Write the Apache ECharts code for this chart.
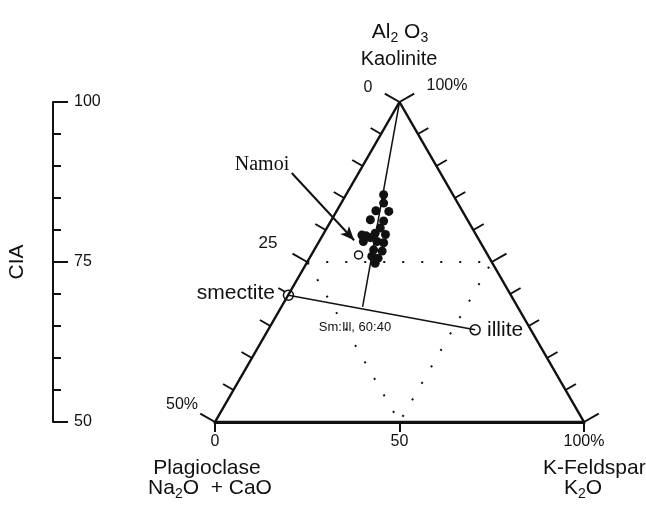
<!DOCTYPE html>
<html>
<head>
<meta charset="utf-8">
<script src="https://cdn.jsdelivr.net/npm/echarts@6/dist/echarts.min.js"></script>
<style>
html, body { margin: 0; padding: 0; background: #fff; }
#chart { width: 646px; height: 508px; }
</style>
</head>
<body>
<div id="chart"></div>
<script>
// frame: x = position along the feldspar join (0 plagioclase -> 100 K-feldspar), y = CIA
const plagVertex = [0, 50];
const apexVertex = [50, 100];
const kspVertex = [100, 50];

const ciaRange = [50, 100];
const ciaMajor = 25;
const ciaMinorSplit = 5;
const baseTickValues = [0, 50, 100];
const baseTickLabels = ['0', '50', '100%'];
const edgeSteps = 10;

// Namoi sediments
const namoiSamples = [
  [45.7, 85.5], [45.7, 84.2], [43.6, 83.0], [47.1, 82.9], [42.1, 81.6],
  [45.7, 81.4], [44.8, 80.3], [43.4, 79.5], [42.1, 78.8], [46.2, 79.3],
  [40.9, 79.1], [39.8, 79.2], [40.2, 78.2], [43.9, 78.2], [45.7, 78.0],
  [43.0, 76.9], [45.3, 76.7], [42.5, 75.9], [44.2, 75.6], [43.4, 74.8]
];
const namoiMean = [38.9, 76.1];
const smectite = [19.9, 69.8];
const illite = [70.5, 64.4];
const smIllMix = [40.0, 68.0];
const namoiArrow = [[20.8, 88.9], [37.7, 78.4]];

const sans = "'Liberation Sans', Arial, sans-serif";
const serif = "'Liberation Serif', 'Times New Roman', serif";
const ink = '#111';

function mid(a, b) { return [(a[0] + b[0]) / 2, (a[1] + b[1]) / 2]; }

const medial = [mid(plagVertex, apexVertex), mid(apexVertex, kspVertex), mid(plagVertex, kspVertex)];
const centroid = [(plagVertex[0] + apexVertex[0] + kspVertex[0]) / 3, (plagVertex[1] + apexVertex[1] + kspVertex[1]) / 3];
const sideEdges = [[plagVertex, apexVertex], [apexVertex, kspVertex]];

const tickData = [];
sideEdges.forEach((edge, e) => {
  for (let i = 0; i <= edgeSteps; i++) {
    const t = i / edgeSteps;
    tickData.push([
      edge[0][0] + (edge[1][0] - edge[0][0]) * t,
      edge[0][1] + (edge[1][1] - edge[0][1]) * t,
      e, i
    ]);
  }
});

function renderTick(params, api) {
  const edge = sideEdges[api.value(2)];
  const i = api.value(3);
  const a = api.coord(edge[0]);
  const b = api.coord(edge[1]);
  const p = api.coord([api.value(0), api.value(1)]);
  const c = api.coord(centroid);
  const dx = b[0] - a[0], dy = b[1] - a[1];
  const l = Math.hypot(dx, dy);
  let nx = -dy / l, ny = dx / l;
  const m = [(a[0] + b[0]) / 2, (a[1] + b[1]) / 2];
  if ((m[0] - c[0]) * nx + (m[1] - c[1]) * ny < 0) { nx = -nx; ny = -ny; }
  const len = i % 5 === 0 ? 17 : 12;
  return {
    type: 'line',
    shape: { x1: p[0], y1: p[1], x2: p[0] + nx * len, y2: p[1] + ny * len },
    style: { stroke: ink, lineWidth: 2 }
  };
}

function txt(x, y, text, size, align, extra) {
  return {
    type: 'text', x: x, y: y, silent: true,
    style: Object.assign({
      text: text, fontSize: size, fontFamily: sans, fill: ink,
      align: align || 'center', verticalAlign: 'middle'
    }, extra || {})
  };
}

const subRich = (size) => ({
  n: { fontSize: size, fontFamily: sans, fill: ink, lineHeight: 26 },
  s: { fontSize: 14, fontFamily: sans, fill: ink, lineHeight: 12, verticalAlign: 'bottom' }
});

const chart = echarts.init(document.getElementById('chart'));

const option = {
  backgroundColor: '#fff',
  animation: false,
  grid: [
    { left: 215, right: 62, top: 102, bottom: 86, containLabel: false, outerBoundsMode: 'none' },
    { left: 53, width: 10, top: 102, bottom: 86, containLabel: false, outerBoundsMode: 'none' }
  ],
  xAxis: [
    {
      type: 'value', gridIndex: 0, min: 0, max: 100, interval: 50,
      axisLine: { show: true, lineStyle: { color: ink, width: 3 } },
      axisTick: { show: true, length: 10, lineStyle: { color: ink, width: 2 } },
      axisLabel: {
        margin: 12, fontSize: 16, color: ink, fontFamily: sans,
        formatter: (v) => baseTickLabels[baseTickValues.indexOf(v)]
      },
      splitLine: { show: false }
    },
    { type: 'value', gridIndex: 1, show: false, min: 0, max: 1 }
  ],
  yAxis: [
    {
      type: 'value', gridIndex: 0, show: false, min: ciaRange[0], max: ciaRange[1]
    },
    {
      type: 'value', gridIndex: 1, position: 'left',
      min: ciaRange[0], max: ciaRange[1], interval: ciaMajor,
      name: 'CIA', nameLocation: 'middle', nameGap: 25, nameRotate: 90,
      nameTextStyle: { fontSize: 21, color: ink, fontFamily: sans },
      axisLine: { show: true, lineStyle: { color: ink, width: 2 } },
      axisTick: { show: true, inside: true, length: 15, lineStyle: { color: ink, width: 2 } },
      minorTick: { show: true, splitNumber: ciaMinorSplit, length: 8, lineStyle: { color: ink, width: 2 } },
      axisLabel: { inside: true, margin: 21, fontSize: 16, color: ink, fontFamily: sans },
      splitLine: { show: false },
      minorSplitLine: { show: false }
    }
  ],
  series: [
    {
      name: 'frame', type: 'line', clip: false, symbol: 'none', silent: true,
      data: [plagVertex, apexVertex, kspVertex, plagVertex],
      lineStyle: { color: ink, width: 2.5 }
    },
    {
      name: 'medial', type: 'line', clip: false, symbol: 'none', silent: true,
      data: [medial[0], medial[1], medial[2], medial[0]],
      lineStyle: { color: ink, width: 2, type: [2, 17] }
    },
    {
      name: 'apex tie', type: 'line', clip: false, symbol: 'none', silent: true,
      data: [apexVertex, smIllMix],
      lineStyle: { color: ink, width: 1.5 }
    },
    {
      name: 'sm-ill tie', type: 'line', clip: false, symbol: 'none', silent: true,
      data: [smectite, illite],
      lineStyle: { color: ink, width: 1.5 },
      markLine: {
        silent: true, symbol: ['none', 'arrow'], symbolSize: [9, 14],
        label: { show: false },
        lineStyle: { color: ink, width: 2, type: 'solid' },
        data: [[{ coord: namoiArrow[0] }, { coord: namoiArrow[1] }]]
      }
    },
    {
      name: 'edge ticks', type: 'custom', clip: false, silent: true,
      renderItem: renderTick,
      encode: { x: 0, y: 1 },
      data: tickData
    },
    {
      name: 'Namoi', type: 'scatter', symbol: 'circle', symbolSize: 9, silent: true,
      itemStyle: { color: ink, opacity: 1 },
      data: namoiSamples
    },
    {
      name: 'Namoi mean', type: 'scatter', symbol: 'circle', symbolSize: 8, silent: true,
      itemStyle: { color: '#fff', borderColor: ink, borderWidth: 1.5, opacity: 1 },
      data: [namoiMean]
    },
    {
      name: 'end members', type: 'scatter', symbol: 'circle', symbolSize: 10, silent: true,
      itemStyle: { color: '#fff', borderColor: ink, borderWidth: 1.5, opacity: 1 },
      data: [smectite, illite]
    }
  ],
  graphic: [
    txt(400, 32, '{n|Al}{s|2}{n| O}{s|3}', 21, 'center', { rich: subRich(21) }),
    txt(399, 59, 'Kaolinite', 20),
    txt(368, 88, '0', 16),
    txt(447, 86, '100%', 16),
    txt(262, 165, 'Namoi', 20, 'center', { fontFamily: serif }),
    txt(268, 243, '25', 17),
    txt(275, 293, 'smectite', 21, 'right'),
    txt(355, 327, 'Sm:Ill, 60:40', 13),
    txt(487, 330, 'illite', 21, 'left'),
    txt(182, 405, '50%', 16),
    txt(207, 468, 'Plagioclase', 21),
    txt(210, 488, '{n|Na}{s|2}{n|O  + CaO}', 21, 'center', { rich: subRich(21) }),
    txt(543, 468, 'K-Feldspar', 21, 'left'),
    txt(583, 488, '{n|K}{s|2}{n|O}', 21, 'center', { rich: subRich(21) })
  ]
};

chart.setOption(option);
</script>
</body>
</html>
